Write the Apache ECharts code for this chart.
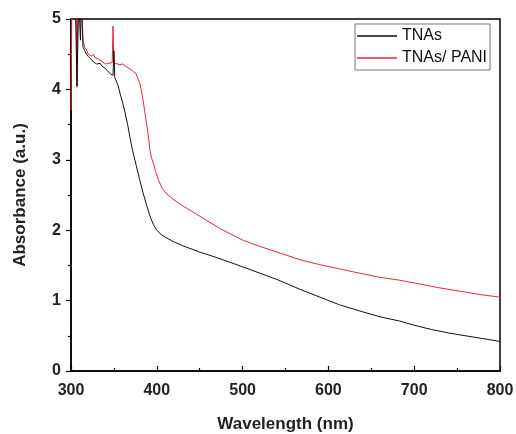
<!DOCTYPE html>
<html>
<head>
<meta charset="utf-8">
<script src="https://cdn.jsdelivr.net/npm/echarts@6/dist/echarts.min.js"></script>
<style>html,body{margin:0;padding:0;background:#fff}#c{width:516px;height:434px}</style>
</head>
<body>
<div id="c"></div>
<script>
const seriesNames = ['TNAs', 'TNAs/ PANI'];
const xTicks = [300, 400, 500, 600, 700, 800];
const yTicks = [0, 1, 2, 3, 4, 5];

const wlTNAs = [305,307,309,311,312,314,316,318,320,322,324,326,328,330,332,334,336,338,340,342,344,346,348,349,350,351,353,355,357,360,363,366,369,372,376,380,384,388,392,396,400,405,410,419,430,450,470,500,520,540,567,590,613,640,660,683,700,720,740,760,780,800];
const absTNAs = [5.3,4.05,5.3,4.7,5.3,4.6,4.55,4.5,4.47,4.46,4.42,4.39,4.41,4.36,4.38,4.37,4.33,4.35,4.3,4.27,4.26,4.22,4.2,4.2,4.55,4.17,4.15,4.05,3.95,3.82,3.67,3.5,3.3,3.12,2.92,2.72,2.53,2.36,2.2,2.08,2.0,1.94,1.9,1.84,1.78,1.69,1.61,1.48,1.39,1.3,1.16,1.05,0.94,0.84,0.77,0.71,0.65,0.59,0.54,0.5,0.46,0.42];

const wlPANI = [300,301,306,307,308,312,314,316,318,320,322,324,326,328,330,332,334,336,338,340,342,344,346,348,349,350,353,356,360,365,370,373,376,378,380,382,384,386,388,390,392,394,396,399,402,406,411,420,431,450,474,500,520,545,567,590,613,640,660,683,700,730,760,780,800];
const absPANI = [3.7,5.3,5.3,4.03,5.3,5.3,4.7,4.6,4.56,4.5,4.52,4.47,4.5,4.45,4.46,4.43,4.44,4.4,4.38,4.36,4.35,4.37,4.35,4.38,4.9,4.36,4.37,4.35,4.36,4.32,4.28,4.25,4.22,4.15,4.1,3.98,3.85,3.68,3.52,3.35,3.14,3.02,2.95,2.82,2.71,2.6,2.52,2.43,2.34,2.2,2.02,1.86,1.77,1.67,1.58,1.51,1.45,1.38,1.33,1.29,1.25,1.18,1.12,1.08,1.05];

const font = '"Liberation Sans", Arial, sans-serif';
const chart = echarts.init(document.getElementById('c'), null, {renderer: 'canvas'});
chart.setOption({
  animation: false,
  backgroundColor: '#fff',
  grid: {left: 71, right: 16, top: 19, bottom: 63, outerBoundsMode: 'none', containLabel: false, show: true, borderColor: '#000', borderWidth: 1.5, backgroundColor: 'transparent'},
  legend: {
    orient: 'vertical', left: 355, top: 24,
    padding: [4, 3, 4, 2], itemGap: 6,
    itemWidth: 40, itemHeight: 1.5, icon: 'rect',
    borderColor: '#777', borderWidth: 1, backgroundColor: '#fff',
    textStyle: {fontFamily: font, fontSize: 16, color: '#111', width: 92, padding: [0, 0, 0, 0]},
    data: seriesNames
  },
  xAxis: {
    type: 'value', min: xTicks[0], max: xTicks[xTicks.length - 1], interval: 100,
    name: 'Wavelength (nm)', nameLocation: 'middle', nameGap: 45,
    nameTextStyle: {fontFamily: font, fontSize: 17, fontWeight: 'bold', color: '#222'},
    axisLine: {show: true, lineStyle: {color: '#000', width: 1.5}},
    axisTick: {show: true, inside: true, length: 5, lineStyle: {color: '#000', width: 1.2}},
    minorTick: {show: true, splitNumber: 2, length: 3, lineStyle: {color: '#000', width: 1.2}},
    axisLabel: {fontFamily: font, fontSize: 16, fontWeight: 'bold', color: '#222', margin: 12},
    splitLine: {show: false}
  },
  yAxis: {
    type: 'value', min: yTicks[0], max: yTicks[yTicks.length - 1], interval: 1,
    name: 'Absorbance (a.u.)', nameLocation: 'middle', nameGap: 42, nameRotate: 90,
    nameTextStyle: {fontFamily: font, fontSize: 17, fontWeight: 'bold', color: '#222'},
    axisLine: {show: true, lineStyle: {color: '#000', width: 1.5}},
    axisTick: {show: true, inside: false, length: 5, lineStyle: {color: '#000', width: 1.2}},
    minorTick: {show: true, splitNumber: 2, length: 3, lineStyle: {color: '#000', width: 1.2}},
    axisLabel: {fontFamily: font, fontSize: 16, fontWeight: 'bold', color: '#222', margin: 10},
    splitLine: {show: false}
  },
  series: [
    {
      name: seriesNames[0], type: 'line', showSymbol: false, symbol: 'none', clip: true,
      lineStyle: {color: '#111', width: 1}, itemStyle: {color: '#111'},
      data: wlTNAs.map((w, i) => [w, absTNAs[i]]), z: 3
    },
    {
      name: seriesNames[1], type: 'line', showSymbol: false, symbol: 'none', clip: true,
      lineStyle: {color: '#e3283a', width: 1}, itemStyle: {color: '#e3283a'},
      data: wlPANI.map((w, i) => [w, absPANI[i]]), z: 2
    }
  ]
});
</script>
</body>
</html>
